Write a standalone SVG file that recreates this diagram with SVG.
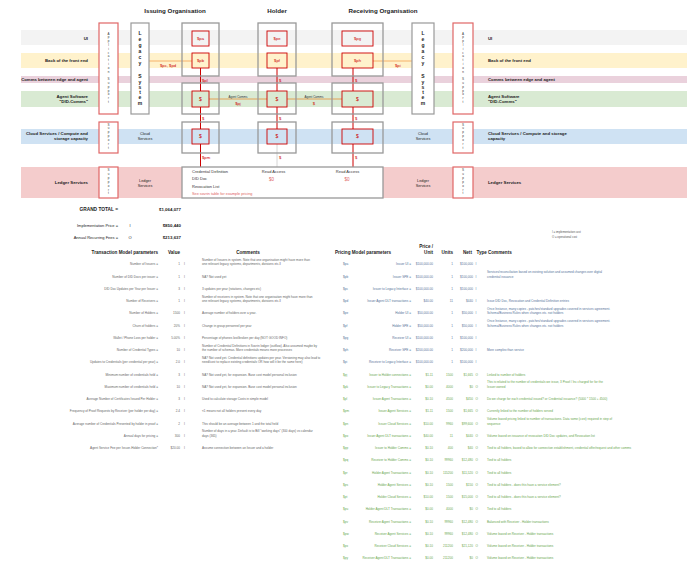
<svg xmlns="http://www.w3.org/2000/svg" width="696" height="571" viewBox="0 0 696 571">
<style>
text{font-family:"Liberation Sans",Arial,sans-serif}
.t{font-size:6.2px;font-weight:bold;fill:#222;text-anchor:middle}
.bl{font-size:4.3px;font-weight:bold;fill:#222}
.e{text-anchor:end}
.m{text-anchor:middle}
.cont{fill:none;stroke:#999;stroke-width:1.3}
.inner{fill:none;stroke:#cc0000;stroke-width:0.9}
.app{fill:#fff;stroke:#e06666;stroke-width:1.2}
.leg{fill:#fff;stroke:#999;stroke-width:1.2}
.red{fill:#cc0000;font-size:4.2px}
.money{stroke:#cc0000;stroke-width:1;fill:none}
.gl{stroke:#ccc;stroke-width:0.8;fill:none}
.lk{stroke:#f6b26b;stroke-width:1;fill:none}
.ac{stroke:#e69138;stroke-width:0.8;fill:none}
.vt{font-size:3px;fill:#333;text-anchor:middle}
.lg{font-size:5px;font-weight:bold;fill:#222;text-anchor:middle}
.sm{font-size:4px;fill:#333}
.svc{font-size:3.8px;fill:#222;text-anchor:middle}
.tb{font-size:3.1px;fill:#666}
.pi{font-size:3.1px;fill:#56739a}
.po{font-size:3.1px;fill:#6aa84f}
.h{font-size:4.6px;font-weight:bold;fill:#222}
.tot{font-size:4px;fill:#222}
.totb{font-size:4.4px;font-weight:bold;fill:#222}
</style>
<rect width="696" height="571" fill="#fff"/>

<!-- titles -->
<text class="t" x="175" y="13">Issuing Organisation</text>
<text class="t" x="277" y="13">Holder</text>
<text class="t" x="383" y="13">Receiving Organisation</text>

<!-- bands -->
<g id="bands">
<rect x="21" y="30" width="666" height="15" fill="#f3f3f3"/>
<rect x="21" y="53" width="666" height="15" fill="#fff2cc"/>
<rect x="21" y="76" width="666" height="7" fill="#ead1dc"/>
<rect x="21" y="91" width="666" height="16" fill="#d9ead3"/>
<rect x="21" y="129" width="666" height="15" fill="#cfe2f3"/>
<rect x="21" y="167" width="666" height="31" fill="#f4cccc"/>
</g>
<g id="band-labels">
<text class="bl e" x="88" y="39.5">UI</text>
<text class="bl e" x="88" y="62">Back of the front end</text>
<text class="bl e" x="88" y="81.2">Comms between edge and agent</text>
<text class="bl e" x="88" y="97.5">Agent Software</text>
<text class="bl e" x="88" y="102.5">"DID-Comms"</text>
<text class="bl e" x="88" y="135">Cloud Services / Compute and</text>
<text class="bl e" x="88" y="140">storage capacity</text>
<text class="bl e" x="88" y="184">Ledger Services</text>
<text class="bl" x="488" y="39.5">UI</text>
<text class="bl" x="488" y="62">Back of the front end</text>
<text class="bl" x="488" y="81.2">Comms between edge and agent</text>
<text class="bl" x="488" y="97.5">Agent Software</text>
<text class="bl" x="488" y="102.5">"DID-Comms"</text>
<text class="bl" x="488" y="135">Cloud Services / Compute and storage</text>
<text class="bl" x="488" y="140">capacity</text>
<text class="bl" x="488" y="184">Ledger Services</text>
</g>

<!-- connectors -->
<g id="connectors">
<line class="money" x1="200.5" y1="68" x2="200.5" y2="91"/>
<line class="money" x1="200.5" y1="107" x2="200.5" y2="129"/>
<line class="money" x1="200.5" y1="144" x2="200.5" y2="167"/>
<line class="money" x1="277" y1="68" x2="277" y2="91"/>
<line class="money" x1="277" y1="107" x2="277" y2="129"/>
<line class="gl" x1="277" y1="144" x2="277" y2="167"/>
<line class="money" x1="353" y1="68" x2="353" y2="91"/>
<line class="money" x1="353" y1="107" x2="353" y2="129"/>
<line class="money" x1="353" y1="144" x2="353" y2="167"/>
<line class="lk" x1="149" y1="61" x2="192" y2="61"/>
<line class="lk" x1="373" y1="61" x2="412" y2="61"/>
<line class="ac" x1="209" y1="99" x2="267" y2="99"/>
<line class="ac" x1="287" y1="99" x2="342" y2="99"/>
<text class="red" x="160" y="66.5">$pc, $pd</text>
<text class="red" x="395" y="66.5">$pi</text>
<text class="red" x="202" y="81.5">$pl</text>
<text class="red" x="279" y="81.5">$</text>
<text class="red" x="355" y="81.5">$</text>
<text class="red" x="202" y="120">$</text>
<text class="red" x="279" y="120">$</text>
<text class="red" x="355" y="120">$</text>
<text class="red" x="202" y="158.5">$pm</text>
<text class="red" x="279" y="158.5">$</text>
<text class="red" x="355" y="158.5">$</text>
<text class="vt" x="238" y="97.6">Agent Comms</text>
<text class="red m" x="238" y="105">$pj</text>
<text class="vt" x="314" y="97.6">Agent Comms</text>
<text class="red m" x="314" y="105">$</text>
</g>

<!-- left side nodes -->
<g id="app-support-left">
<rect class="app" x="99" y="23" width="19" height="91"/>
<text class="vt"><tspan x="108.5" y="34.5">A</tspan><tspan x="108.5" y="38.3">p</tspan><tspan x="108.5" y="42.1">p</tspan><tspan x="108.5" y="45.9">l</tspan><tspan x="108.5" y="49.7">i</tspan><tspan x="108.5" y="53.5">c</tspan><tspan x="108.5" y="57.3">a</tspan><tspan x="108.5" y="61.1">t</tspan><tspan x="108.5" y="64.9">i</tspan><tspan x="108.5" y="68.7">o</tspan><tspan x="108.5" y="72.5">n</tspan><tspan x="108.5" y="80.1">S</tspan><tspan x="108.5" y="83.9">u</tspan><tspan x="108.5" y="87.7">p</tspan><tspan x="108.5" y="91.5">p</tspan><tspan x="108.5" y="95.3">o</tspan><tspan x="108.5" y="99.1">r</tspan><tspan x="108.5" y="102.9">t</tspan></text>
</g>
<g id="legacy-left">
<rect class="leg" x="131" y="23" width="18" height="91"/>
<text class="lg"><tspan x="140" y="35">L</tspan><tspan x="140" y="41">e</tspan><tspan x="140" y="47">g</tspan><tspan x="140" y="53">a</tspan><tspan x="140" y="58.5">c</tspan><tspan x="140" y="64.5">y</tspan><tspan x="140" y="78">S</tspan><tspan x="140" y="83.5">y</tspan><tspan x="140" y="89">s</tspan><tspan x="140" y="94">t</tspan><tspan x="140" y="99">e</tspan><tspan x="140" y="104.5">m</tspan></text>
</g>
<g id="cloud-support-left">
<rect class="app" x="99" y="122" width="19" height="31"/>
<text class="vt"><tspan x="108.5" y="125.5">S</tspan><tspan x="108.5" y="129.4">u</tspan><tspan x="108.5" y="133.3">p</tspan><tspan x="108.5" y="137.2">p</tspan><tspan x="108.5" y="141.1">o</tspan><tspan x="108.5" y="145">r</tspan><tspan x="108.5" y="148.9">t</tspan></text>
<text class="svc" x="145" y="135">Cloud</text>
<text class="svc" x="145" y="140">Services</text>
</g>
<g id="ledger-support-left">
<rect class="app" x="99" y="167" width="19" height="31"/>
<text class="vt"><tspan x="108.5" y="171">S</tspan><tspan x="108.5" y="174.9">u</tspan><tspan x="108.5" y="178.8">p</tspan><tspan x="108.5" y="182.7">p</tspan><tspan x="108.5" y="186.6">o</tspan><tspan x="108.5" y="190.5">r</tspan><tspan x="108.5" y="194.4">t</tspan></text>
<text class="svc" x="145" y="181.5">Ledger</text>
<text class="svc" x="145" y="186.5">Services</text>
</g>

<!-- issuer -->
<g id="issuer">
<rect class="cont" x="182" y="23" width="37" height="53"/>
<rect class="cont" x="182" y="83" width="37" height="31"/>
<rect class="cont" x="182" y="122" width="37" height="31"/>
<rect class="inner" x="192" y="31" width="17" height="15"/>
<text class="red m" x="200.5" y="40">$pa</text>
<rect class="inner" x="192" y="53" width="17" height="15"/>
<text class="red m" x="200.5" y="62">$pb</text>
<rect class="inner" x="192" y="91" width="17" height="16"/>
<text class="red m" x="200.5" y="100.5" style="font-size:5px">$</text>
<rect class="inner" x="192" y="129" width="17" height="15"/>
<text class="red m" x="200.5" y="138" style="font-size:5px">$</text>
</g>
<!-- holder -->
<g id="holder">
<rect class="cont" x="258" y="23" width="38" height="53"/>
<rect class="cont" x="258" y="83" width="38" height="31"/>
<rect class="cont" x="258" y="122" width="38" height="31"/>
<rect class="inner" x="267" y="31" width="20" height="15"/>
<text class="red m" x="277" y="40">$pe</text>
<rect class="inner" x="267" y="53" width="20" height="15"/>
<text class="red m" x="277" y="62">$pf</text>
<rect class="inner" x="267" y="91" width="20" height="16"/>
<text class="red m" x="277" y="100.5" style="font-size:5px">$</text>
<rect class="inner" x="267" y="129" width="20" height="15"/>
<text class="red m" x="277" y="138" style="font-size:5px">$</text>
</g>
<!-- receiver -->
<g id="receiver">
<rect class="cont" x="332" y="23" width="51" height="53"/>
<rect class="cont" x="332" y="83" width="51" height="31"/>
<rect class="cont" x="332" y="122" width="51" height="31"/>
<rect class="inner" x="342" y="31" width="31" height="15"/>
<text class="red m" x="357.5" y="40">$pg</text>
<rect class="inner" x="342" y="53" width="31" height="15"/>
<text class="red m" x="357.5" y="62">$ph</text>
<rect class="inner" x="342" y="91" width="31" height="16"/>
<text class="red m" x="357.5" y="100.5" style="font-size:5px">$</text>
<rect class="inner" x="342" y="129" width="31" height="15"/>
<text class="red m" x="357.5" y="138" style="font-size:5px">$</text>
</g>

<!-- ledger -->
<g id="ledger">
<rect fill="#fff" stroke="#999" stroke-width="1.3" x="182" y="167" width="201" height="31"/>
<text class="sm" x="192" y="172.8">Credential Definition</text>
<text class="sm" x="192" y="180.3">DID Doc</text>
<text class="sm" x="192" y="187.8">Revocation List</text>
<text x="192" y="194.8" style="font-size:3.8px;fill:#e06666">See sovrin table for example pricing</text>
<text class="sm m" x="273.5" y="172.8">Read Access</text>
<text class="m" x="271.5" y="180.5" style="font-size:4.5px;fill:#e06666">$0</text>
<text class="sm m" x="347.5" y="172.8">Read Access</text>
<text class="m" x="347" y="180.5" style="font-size:4.5px;fill:#e06666">$0</text>
</g>

<!-- right side nodes -->
<g id="legacy-right">
<rect class="leg" x="412" y="23" width="22" height="91"/>
<text class="lg"><tspan x="423" y="35">L</tspan><tspan x="423" y="41">e</tspan><tspan x="423" y="47">g</tspan><tspan x="423" y="53">a</tspan><tspan x="423" y="58.5">c</tspan><tspan x="423" y="64.5">y</tspan><tspan x="423" y="78">S</tspan><tspan x="423" y="83.5">y</tspan><tspan x="423" y="89">s</tspan><tspan x="423" y="94">t</tspan><tspan x="423" y="99">e</tspan><tspan x="423" y="104.5">m</tspan></text>
</g>
<g id="app-support-right">
<rect class="app" x="453" y="23" width="20" height="91"/>
<text class="vt"><tspan x="463" y="34.5">A</tspan><tspan x="463" y="38.3">p</tspan><tspan x="463" y="42.1">p</tspan><tspan x="463" y="45.9">l</tspan><tspan x="463" y="49.7">i</tspan><tspan x="463" y="53.5">c</tspan><tspan x="463" y="57.3">a</tspan><tspan x="463" y="61.1">t</tspan><tspan x="463" y="64.9">i</tspan><tspan x="463" y="68.7">o</tspan><tspan x="463" y="72.5">n</tspan><tspan x="463" y="80.1">S</tspan><tspan x="463" y="83.9">u</tspan><tspan x="463" y="87.7">p</tspan><tspan x="463" y="91.5">p</tspan><tspan x="463" y="95.3">o</tspan><tspan x="463" y="99.1">r</tspan><tspan x="463" y="102.9">t</tspan></text>
</g>
<g id="cloud-support-right">
<text class="svc" x="423" y="135">Cloud</text>
<text class="svc" x="423" y="140">Services</text>
<rect class="app" x="453" y="122" width="20" height="31"/>
<text class="vt"><tspan x="463" y="125.5">S</tspan><tspan x="463" y="129.4">u</tspan><tspan x="463" y="133.3">p</tspan><tspan x="463" y="137.2">p</tspan><tspan x="463" y="141.1">o</tspan><tspan x="463" y="145">r</tspan><tspan x="463" y="148.9">t</tspan></text>
</g>
<g id="ledger-support-right">
<text class="svc" x="423" y="181.5">Ledger</text>
<text class="svc" x="423" y="186.5">Services</text>
<rect class="app" x="453" y="167" width="20" height="31"/>
<text class="vt"><tspan x="463" y="171">S</tspan><tspan x="463" y="174.9">u</tspan><tspan x="463" y="178.8">p</tspan><tspan x="463" y="182.7">p</tspan><tspan x="463" y="186.6">o</tspan><tspan x="463" y="190.5">r</tspan><tspan x="463" y="194.4">t</tspan></text>
</g>

<!-- totals -->
<g id="totals">
<text class="totb e" x="118" y="210.7" style="font-size:4.8px">GRAND TOTAL =</text>
<text class="totb e" x="181" y="210.7">$1,064,077</text>
<text class="tot e" x="118" y="226.5">Implementation Price =</text>
<text class="tot m" x="130" y="226.5">I</text>
<text class="totb e" x="181" y="226.5">$850,440</text>
<text class="tot e" x="118" y="238.5">Annual Recurring Fees =</text>
<text class="tot m" x="130" y="238.5">O</text>
<text class="totb e" x="181" y="238.5">$213,637</text>
<text x="552" y="233" style="font-size:2.8px;fill:#555">I = implementation cost</text>
<text x="552" y="237.5" style="font-size:2.8px;fill:#555">O = operational cost</text>
</g>

<!-- transaction model table -->
<g id="transaction-table">
<text class="h e" x="158" y="253.6">Transaction Model parameters</text>
<text class="h m" x="174" y="253.6">Value</text>
<text class="h m" x="248" y="253.6">Comments</text>

<text class="tb e" x="158" y="265.3">Number of Issuers =</text><text class="tb e" x="180" y="265.3">1</text><text class="tb" x="184" y="265.3">I</text>
<text class="tb" x="202" y="260.9">Number of Issuers in system. Note that one organisation might have more than</text><text class="tb" x="202" y="265.3">one relevant legacy systems, departments, divisions etc.ll</text>

<text class="tb e" x="158" y="277.55">Number of DID Docs per issuer =</text><text class="tb e" x="180" y="277.55">1</text><text class="tb" x="184" y="277.55">I</text>
<text class="tb" x="202" y="277.55">NA? Not used yet</text>

<text class="tb e" x="158" y="289.8">DID Doc Updates per Year per Issuer =</text><text class="tb e" x="180" y="289.8">3</text><text class="tb" x="184" y="289.8">I</text>
<text class="tb" x="202" y="289.8">3 updates per year (rotations, changes etc)</text>

<text class="tb e" x="158" y="302.05">Number of Receivers =</text><text class="tb e" x="180" y="302.05">1</text><text class="tb" x="184" y="302.05">I</text>
<text class="tb" x="202" y="297.65">Number of receivers in system. Note that one organisation might have more than</text><text class="tb" x="202" y="302.05">one relevant legacy systems, departments, divisions etc.ll</text>

<text class="tb e" x="158" y="314.3">Number of Holders =</text><text class="tb e" x="180" y="314.3">1500</text><text class="tb" x="184" y="314.3">I</text>
<text class="tb" x="202" y="314.3">Average number of holders over a year.</text>

<text class="tb e" x="158" y="326.55">Churn of holders =</text><text class="tb e" x="180" y="326.55">20%</text><text class="tb" x="184" y="326.55">I</text>
<text class="tb" x="202" y="326.55">Change in group personnel per year</text>

<text class="tb e" x="158" y="338.8">Wallet / Phone Loss per holder =</text><text class="tb e" x="180" y="338.8">5.00%</text><text class="tb" x="184" y="338.8">I</text>
<text class="tb" x="202" y="338.8">Percentage of phones lost/broken per day (NOT GOOD INFO)</text>

<text class="tb e" x="158" y="351.05">Number of Credential Types =</text><text class="tb e" x="180" y="351.05">10</text><text class="tb" x="184" y="351.05">I</text>
<text class="tb" x="202" y="346.65">Number of Credential Definitions in Sovrin ledger (outflow). Also assumed maybe by</text><text class="tb" x="202" y="351.05">the number of schemas. More credentials means more processes</text>

<text class="tb e" x="158" y="363.3">Updates to Credentials (per credential per year) =</text><text class="tb e" x="180" y="363.3">2.0</text><text class="tb" x="184" y="363.3">I</text>
<text class="tb" x="202" y="358.9">NA? Not used yet. Credential definitions updates per year. Versioning may also lead to</text><text class="tb" x="202" y="363.3">need/cost to replace existing credentials OR how will it be the same here)</text>

<text class="tb e" x="158" y="375.55">Minimum number of credentials held =</text><text class="tb e" x="180" y="375.55">3</text><text class="tb" x="184" y="375.55">I</text>
<text class="tb" x="202" y="375.55">NA? Not used yet, for expansion. Base cost model personal inclusion</text>

<text class="tb e" x="158" y="387.8">Maximum number of credentials held =</text><text class="tb e" x="180" y="387.8">10</text><text class="tb" x="184" y="387.8">I</text>
<text class="tb" x="202" y="387.8">NA? Not used yet, for expansion. Base cost model personal inclusion</text>

<text class="tb e" x="158" y="400.05">Average Number of Certificates Issued Per Holder =</text><text class="tb e" x="180" y="400.05">3</text><text class="tb" x="184" y="400.05">I</text>
<text class="tb" x="202" y="400.05">Used to calculate storage Costs in simple model</text>

<text class="tb e" x="158" y="412.3">Frequency of Proof Requests by Receiver (per holder per day) =</text><text class="tb e" x="180" y="412.3">2.4</text><text class="tb" x="184" y="412.3">I</text>
<text class="tb" x="202" y="412.3">&lt;1 means not all holders present every day</text>

<text class="tb e" x="158" y="424.55">Average number of Credentials Presented by holder in proof =</text><text class="tb e" x="180" y="424.55">2</text><text class="tb" x="184" y="424.55">I</text>
<text class="tb" x="202" y="424.55">This should be an average between 1 and the total held</text>

<text class="tb e" x="158" y="436.8">Annual days for pricing =</text><text class="tb e" x="180" y="436.8">300</text><text class="tb" x="184" y="436.8">I</text>
<text class="tb" x="202" y="432.4">Number of days in a year. Default is to Bill "working days" (300 days) vs calendar</text><text class="tb" x="202" y="436.8">days (365)</text>

<text class="tb e" x="158" y="449.05">Agent Service Fee per Issuer-Holder Connection*</text><text class="tb e" x="180" y="449.05">$20.00</text><text class="tb" x="184" y="449.05">I</text>
<text class="tb" x="202" y="449.05">Assume connection between an Issuer and a holder</text>
</g>

<!-- pricing model table -->
<g id="pricing-table">
<text class="h m" x="363" y="253.6">Pricing Model parameters</text>
<text class="h e" x="433" y="247.6">Price /</text>
<text class="h e" x="433" y="253.6">Unit</text>
<text class="h e" x="453" y="253.6">Units</text>
<text class="h" x="463" y="253.6">Nett</text>
<text class="h" x="476.5" y="253.6">Type</text>
<text class="h" x="488" y="253.6">Comments</text>

<g class="rows-i">
<text class="pi" x="343" y="265.3">$pa</text><text class="pi e" x="411" y="265.3">Issuer UI =</text><text class="pi e" x="433" y="265.3">$100,000.00</text><text class="pi e" x="453" y="265.3">1</text><text class="pi e" x="473" y="265.3">$100,000</text><text class="pi" x="475.5" y="265.3">I</text>

<text class="pi" x="343" y="277.55">$pb</text><text class="pi e" x="411" y="277.55">Issuer SPE =</text><text class="pi e" x="433" y="277.55">$100,000.00</text><text class="pi e" x="453" y="277.55">1</text><text class="pi e" x="473" y="277.55">$100,000</text><text class="pi" x="475.5" y="277.55">I</text>
<text class="pi" x="487" y="273.15">Services/reconciliation based on existing solution and assumed changes over digital</text><text class="pi" x="487" y="277.55">credential issuance</text>

<text class="pi" x="343" y="289.8">$pc</text><text class="pi e" x="411" y="289.8">Issuer to Legacy Interface =</text><text class="pi e" x="433" y="289.8">$100,000.00</text><text class="pi e" x="453" y="289.8">1</text><text class="pi e" x="473" y="289.8">$100,000</text><text class="pi" x="475.5" y="289.8">I</text>

<text class="pi" x="343" y="302.05">$pd</text><text class="pi e" x="411" y="302.05">Issuer Agent DLT transactions =</text><text class="pi e" x="433" y="302.05">$40.00</text><text class="pi e" x="453" y="302.05">11</text><text class="pi e" x="473" y="302.05">$440</text><text class="pi" x="475.5" y="302.05">I</text>
<text class="pi" x="487" y="302.05">Issue DID Doc, Revocation and Credential Definition entries</text>

<text class="pi" x="343" y="314.3">$pe</text><text class="pi e" x="411" y="314.3">Holder UI =</text><text class="pi e" x="433" y="314.3">$50,000.00</text><text class="pi e" x="453" y="314.3">1</text><text class="pi e" x="473" y="314.3">$50,000</text><text class="pi" x="475.5" y="314.3">I</text>
<text class="pi" x="487" y="309.9">Once Instance, many copies - patches/standard upgrades covered in services agreement.</text><text class="pi" x="487" y="314.3">Schema/Business Rules when changes etc. not holders</text>

<text class="pi" x="343" y="326.55">$pf</text><text class="pi e" x="411" y="326.55">Holder SPE =</text><text class="pi e" x="433" y="326.55">$50,000.00</text><text class="pi e" x="453" y="326.55">1</text><text class="pi e" x="473" y="326.55">$50,000</text><text class="pi" x="475.5" y="326.55">I</text>
<text class="pi" x="487" y="322.15">Once Instance, many copies - patches/standard upgrades covered in services agreement.</text><text class="pi" x="487" y="326.55">Schema/Business Rules when changes etc. not holders</text>

<text class="pi" x="343" y="338.8">$pg</text><text class="pi e" x="411" y="338.8">Receiver UI =</text><text class="pi e" x="433" y="338.8">$100,000.00</text><text class="pi e" x="453" y="338.8">1</text><text class="pi e" x="473" y="338.8">$100,000</text><text class="pi" x="475.5" y="338.8">I</text>

<text class="pi" x="343" y="351.05">$ph</text><text class="pi e" x="411" y="351.05">Receiver SPE =</text><text class="pi e" x="433" y="351.05">$200,000.00</text><text class="pi e" x="453" y="351.05">1</text><text class="pi e" x="473" y="351.05">$200,000</text><text class="pi" x="475.5" y="351.05">I</text>
<text class="pi" x="487" y="351.05">More complex than service</text>

<text class="pi" x="343" y="363.3">$pi</text><text class="pi e" x="411" y="363.3">Receiver to Legacy Interface =</text><text class="pi e" x="433" y="363.3">$100,000.00</text><text class="pi e" x="453" y="363.3">1</text><text class="pi e" x="473" y="363.3">$100,000</text><text class="pi" x="475.5" y="363.3">I</text>
</g>

<g class="rows-o">
<text class="po" x="343" y="375.55">$pj</text><text class="po e" x="411" y="375.55">Issuer to Holder connections =</text><text class="po e" x="433" y="375.55">$1.11</text><text class="po e" x="453" y="375.55">1500</text><text class="po e" x="473" y="375.55">$1,665</text><text class="po" x="475.5" y="375.55">O</text>
<text class="po" x="487" y="375.55">Linked to number of holders</text>

<text class="po" x="343" y="387.8">$pk</text><text class="po e" x="411" y="387.8">Issuer to Legacy Transactions =</text><text class="po e" x="433" y="387.8">$0.00</text><text class="po e" x="453" y="387.8">4000</text><text class="po e" x="473" y="387.8">$0</text><text class="po" x="475.5" y="387.8">O</text>
<text class="po" x="487" y="383.4">This is related to the number of credentials we issue, 3 Proof / Inc charged for for the</text><text class="po" x="487" y="387.8">Issuer owned</text>

<text class="po" x="343" y="400.05">$pl</text><text class="po e" x="411" y="400.05">Issuer Agent Transactions =</text><text class="po e" x="433" y="400.05">$0.10</text><text class="po e" x="453" y="400.05">4500</text><text class="po e" x="473" y="400.05">$450</text><text class="po" x="475.5" y="400.05">O</text>
<text class="po" x="487" y="400.05">Do we charge for each credential issued? or Credential issuance? (5000 * 1500 + 4500)</text>

<text class="po" x="343" y="412.3">$pm</text><text class="po e" x="411" y="412.3">Issuer Agent Services =</text><text class="po e" x="433" y="412.3">$1.11</text><text class="po e" x="453" y="412.3">1500</text><text class="po e" x="473" y="412.3">$1,665</text><text class="po" x="475.5" y="412.3">O</text>
<text class="po" x="487" y="412.3">Currently linked to the number of holders served</text>

<text class="po" x="343" y="424.55">$pn</text><text class="po e" x="411" y="424.55">Issuer Cloud Services =</text><text class="po e" x="433" y="424.55">$10.00</text><text class="po e" x="453" y="424.55">9960</text><text class="po e" x="473" y="424.55">$99,600</text><text class="po" x="475.5" y="424.55">O</text>
<text class="po" x="487" y="420.15">Volume based pricing linked to number of transactions. Data some (cost) required in step of</text><text class="po" x="487" y="424.55">sequence</text>

<text class="po" x="343" y="436.8">$po</text><text class="po e" x="411" y="436.8">Issuer Agent DLT transactions =</text><text class="po e" x="433" y="436.8">$40.00</text><text class="po e" x="453" y="436.8">11</text><text class="po e" x="473" y="436.8">$440</text><text class="po" x="475.5" y="436.8">O</text>
<text class="po" x="487" y="436.8">Volume based on issuance of revocation DID Doc updates, and Revocation list</text>

<text class="po" x="343" y="449.05">$pp</text><text class="po e" x="411" y="449.05">Issuer to Holder Comms =</text><text class="po e" x="433" y="449.05">$0.10</text><text class="po e" x="453" y="449.05">400</text><text class="po e" x="473" y="449.05">$40</text><text class="po" x="475.5" y="449.05">O</text>
<text class="po" x="487" y="449.05">Tied to all holders, based to allow for connection establishment, credential offer/request and other comms</text>

<text class="po" x="343" y="461.3">$pq</text><text class="po e" x="411" y="461.3">Receiver to Holder Comms =</text><text class="po e" x="433" y="461.3">$0.10</text><text class="po e" x="453" y="461.3">99960</text><text class="po e" x="473" y="461.3">$12,480</text><text class="po" x="475.5" y="461.3">O</text>
<text class="po" x="487" y="461.3">Tied to all holders</text>

<text class="po" x="343" y="473.55">$pr</text><text class="po e" x="411" y="473.55">Holder Agent Transactions =</text><text class="po e" x="433" y="473.55">$0.10</text><text class="po e" x="453" y="473.55">115200</text><text class="po e" x="473" y="473.55">$11,520</text><text class="po" x="475.5" y="473.55">O</text>
<text class="po" x="487" y="473.55">Tied to all holders</text>

<text class="po" x="343" y="485.8">$ps</text><text class="po e" x="411" y="485.8">Holder Agent Services =</text><text class="po e" x="433" y="485.8">$0.10</text><text class="po e" x="453" y="485.8">1500</text><text class="po e" x="473" y="485.8">$150</text><text class="po" x="475.5" y="485.8">O</text>
<text class="po" x="487" y="485.8">Tied to all holders - does this have a service element?</text>

<text class="po" x="343" y="498.05">$pt</text><text class="po e" x="411" y="498.05">Holder Cloud Services =</text><text class="po e" x="433" y="498.05">$10.00</text><text class="po e" x="453" y="498.05">1500</text><text class="po e" x="473" y="498.05">$15,000</text><text class="po" x="475.5" y="498.05">O</text>
<text class="po" x="487" y="498.05">Tied to all holders - does this have a service element?</text>

<text class="po" x="343" y="510.3">$pu</text><text class="po e" x="411" y="510.3">Holder Agent DLT Transactions =</text><text class="po e" x="433" y="510.3">$0.00</text><text class="po e" x="453" y="510.3">4000</text><text class="po e" x="473" y="510.3">$0</text><text class="po" x="475.5" y="510.3">O</text>
<text class="po" x="487" y="510.3">Tied to all holders</text>

<text class="po" x="343" y="522.55">$pv</text><text class="po e" x="411" y="522.55">Receiver Agent Transactions =</text><text class="po e" x="433" y="522.55">$0.10</text><text class="po e" x="453" y="522.55">99960</text><text class="po e" x="473" y="522.55">$12,480</text><text class="po" x="475.5" y="522.55">O</text>
<text class="po" x="487" y="522.55">Balanced with Receiver - Holder transactions</text>

<text class="po" x="343" y="534.8">$pw</text><text class="po e" x="411" y="534.8">Receiver Agent Services =</text><text class="po e" x="433" y="534.8">$0.10</text><text class="po e" x="453" y="534.8">99960</text><text class="po e" x="473" y="534.8">$12,480</text><text class="po" x="475.5" y="534.8">O</text>
<text class="po" x="487" y="534.8">Volume based on Receiver - Holder transactions</text>

<text class="po" x="343" y="547.05">$px</text><text class="po e" x="411" y="547.05">Receiver Cloud Services =</text><text class="po e" x="433" y="547.05">$0.10</text><text class="po e" x="453" y="547.05">211200</text><text class="po e" x="473" y="547.05">$21,120</text><text class="po" x="475.5" y="547.05">O</text>
<text class="po" x="487" y="547.05">Volume based on Receiver - Holder transactions</text>

<text class="po" x="343" y="559.3">$py</text><text class="po e" x="411" y="559.3">Receiver Agent DLT Transactions =</text><text class="po e" x="433" y="559.3">$0.00</text><text class="po e" x="453" y="559.3">211200</text><text class="po e" x="473" y="559.3">$0</text><text class="po" x="475.5" y="559.3">O</text>
<text class="po" x="487" y="559.3">Volume based on Receiver - Holder transactions</text>
</g>
</g>
</svg>
